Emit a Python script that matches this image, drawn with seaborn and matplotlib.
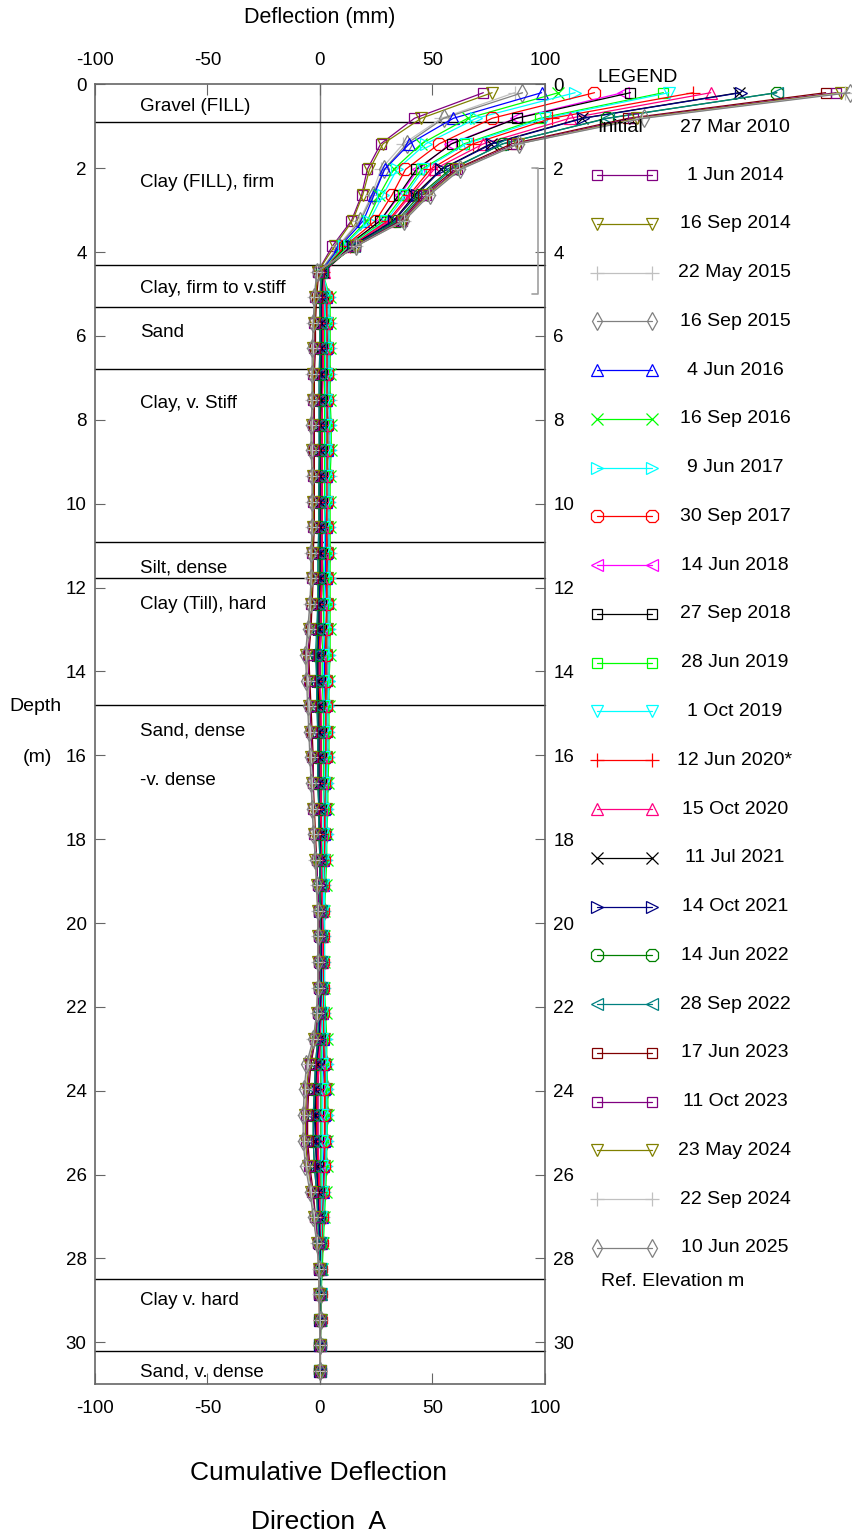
import matplotlib
matplotlib.use('Agg')
import matplotlib.pyplot as plt
import seaborn as sns
from matplotlib.lines import Line2D

sns.set_style('white')
plt.rcParams['font.family'] = ['Liberation Sans', 'DejaVu Sans']
plt.rcParams['axes.unicode_minus'] = False
plt.rcParams['text.color'] = 'black'
plt.rcParams['xtick.labelcolor'] = 'black'
plt.rcParams['ytick.labelcolor'] = 'black'

# ---------------- data ----------------
depth = [0.2, 0.81, 1.42, 2.03, 2.64, 3.25, 3.86, 4.47, 5.08, 5.69, 6.3, 6.91, 7.52, 8.13,
         8.73, 9.34, 9.95, 10.56, 11.17, 11.78, 12.39, 13.0, 13.61, 14.22, 14.83, 15.44,
         16.05, 16.66, 17.27, 17.88, 18.49, 19.1, 19.71, 20.32, 20.93, 21.54, 22.15, 22.76,
         23.36, 23.97, 24.58, 25.19, 25.8, 26.41, 27.02, 27.63, 28.24, 28.85, 29.46, 30.07, 30.68]

dates = ['1 Jun 2014', '16 Sep 2014', '22 May 2015', '16 Sep 2015', '4 Jun 2016',
         '16 Sep 2016', '9 Jun 2017', '30 Sep 2017', '14 Jun 2018', '27 Sep 2018',
         '28 Jun 2019', '1 Oct 2019', '12 Jun 2020*', '15 Oct 2020', '11 Jul 2021',
         '14 Oct 2021', '14 Jun 2022', '28 Sep 2022', '17 Jun 2023', '11 Oct 2023',
         '23 May 2024', '22 Sep 2024', '10 Jun 2025']

s01 = [72.6, 42, 27, 21, 18.5, 14, 5.5, -1,
       3, 3, 3.5, 3.5, 3, 3.5, 3.5, 3, 3, 3, 3.5, 3, 3.5, 3, 3, 3, 3, 3, 3, 2.5, 2.5, 2.5, 2, 1.5,
       1.5, 1.5, 1.5, 1.5, 1.5, 2, 2.5, 2.5, 2.5, 2.5, 2, 1.5, 1.5, 1, 0.5, 0.5, 0.3, 0.2, 0]
s02 = [76.5, 45, 28, 22, 19, 14.5, 6.5, -1,
       2.5, 3, 3, 3, 3, 3, 3.5, 3, 3, 3, 3, 3, 3, 3, 2.5, 2.5, 3, 3, 2.5, 2.5, 2.5, 2, 2, 1.5,
       1.5, 1.5, 1.5, 1.5, 1.5, 2, 2, 2.5, 2.5, 2, 2, 1.5, 1, 1, 0.5, 0.5, 0.3, 0.1, 0]
s03 = [86.5, 54, 37, 27, 23, 17.5, 8, 0,
       4, 4.5, 4.5, 4.5, 4.5, 4.5, 4.5, 4.5, 4, 4, 4.5, 4, 4, 4, 4, 3.5, 3.5, 3.5, 3.5, 3, 3, 3,
       2.5, 2, 2, 2, 2, 2, 2, 2.5, 3, 3, 3, 3, 2.5, 2, 1.5, 1, 0.5, 0.5, 0.3, 0.2, 0]
s04 = [90, 55, 38.5, 28.5, 23.5, 18, 8.5, 0,
       3.5, 3.5, 4, 4, 4, 4, 4, 4, 3.5, 3.5, 4, 3.5, 3.5, 3.5, 3.5, 3.5, 3, 3, 3, 3, 2.5, 2.5,
       2, 2, 2, 1.5, 1.5, 1.5, 2, 2, 2.5, 3, 3, 2.5, 2.5, 2, 1.5, 1, 0.5, 0.5, 0.3, 0.1, 0]
s05 = [98.5, 59.3, 39.7, 28.7, 24, 19.3, 9, 0.5,
       2.5, 2.5, 2.5, 2.5, 2.5, 2.5, 3, 2.5, 2.5, 2.5, 2.5, 2.5, 2, 2, 2, 2, 2, 2, 2, 2, 2, 2,
       1.5, 1.5, 1, 1, 1, 1, 1, 1.5, 1.5, 2, 2, 2, 1.5, 1.5, 1, 0.5, 0.5, 0.3, 0.2, 0.1, 0]
s06 = [106, 65.6, 45, 32.7, 26.4, 21, 10, 1,
       4.5, 4.5, 4.5, 4.5, 4.5, 5, 5, 4.5, 4.5, 4.5, 4.5, 4.5, 4.5, 4.5, 4.5, 4, 4, 4, 4, 3.5,
       3.5, 3, 3, 2.5, 2, 2, 2, 2, 2.5, 3, 3, 3.5, 3.5, 3, 3, 2.5, 2, 1.5, 1, 0.5, 0.3, 0.2, 0]
s07 = [113.4, 69.5, 47, 34.2, 28, 22, 10.5, 1,
       4, 4, 4, 4, 4, 4.5, 4.5, 4, 4, 4, 4, 4, 4, 4, 4, 4, 3.5, 3.5, 3.5, 3, 3, 3, 2.5, 2, 2, 2,
       2, 2, 2, 2.5, 3, 3, 3, 3, 2.5, 2, 1.5, 1, 0.5, 0.5, 0.3, 0.1, 0]
s08 = [122, 76.5, 53, 38, 32, 24.8, 11, 1,
       3, 3, 3, 3, 3, 3, 3, 3, 3, 3, 3, 3, 3, 2.5, 2.5, 2.5, 2.5, 2.5, 2.5, 2, 2, 2, 2, 1.5, 1.5,
       1.5, 1.5, 1.5, 1.5, 1.5, 2, 2, 2, 2, 2, 1.5, 1, 1, 0.5, 0.5, 0.3, 0.1, 0]
s09 = [134.5, 87, 58, 43.6, 35.5, 27, 12, 1.5,
       1.5, 1, 1, 1, 1, 1, 1, 1, 1, 1, 1, 0.5, 0.5, 0.5, 0, 0, 0.5, 0.5, 0.5, 0.5, 0.5, 0.5, 0.5,
       0.5, 0.5, 0.5, 0.5, 0.5, 0.5, 0, -0.5, -1, -1, -1, -0.5, -0.5, 0, 0, 0, 0, 0, 0, 0]
s10 = [138, 87.5, 58.5, 42.8, 35, 26.8, 12, 1,
       1.5, 1.5, 1, 1, 1, 1, 1, 1, 1, 1, 1, 1, 0.5, 0.5, 0, 0, 0, 0.5, 0.5, 0.5, 0.5, 0.5, 0.5,
       1, 1, 1, 1, 1, 0.5, 0, -0.5, -1, -1, -1, -1, -0.5, 0, 0, 0, 0, 0, 0, 0]
s11 = [152.6, 97.7, 64, 45, 37, 28.5, 12.5, 1,
       2, 2, 2, 2, 2, 2, 2, 2, 2, 2, 2, 1.5, 1.5, 1.5, 1, 1, 1.5, 1.5, 1.5, 1.5, 1.5, 1.5, 1, 1,
       1, 1, 1, 1, 1, 1, 0.5, 0.5, 0.5, 0.5, 0.5, 0.5, 0.5, 0.5, 0.3, 0.3, 0.2, 0.1, 0]
s12 = [155, 100, 65, 46, 38, 29.5, 13, 1.5,
       2, 2.5, 2.5, 2.5, 2.5, 2.5, 2.5, 2.5, 2.5, 2, 2, 2, 2, 2, 1.5, 1.5, 2, 2, 2, 2, 1.5, 1.5,
       1.5, 1.5, 1.5, 1, 1, 1, 1, 1, 1, 1, 1, 1, 1, 1, 0.5, 0.5, 0.5, 0.3, 0.2, 0.1, 0]
s13 = [166, 103, 68, 49, 39.7, 30.3, 13.5, 1.5,
       1, 1, 1, 1, 0.5, 0.5, 0.5, 0.5, 0.5, 0.5, 0.5, 0.5, 0, 0, -0.5, -0.5, 0, 0, 0, 0, 0, 0.5,
       0.5, 0.5, 0.5, 0.5, 0.5, 0.5, 0, -0.5, -1, -1.5, -1.5, -1.5, -1, -0.5, 0, 0, 0, 0, 0, 0, 0]
s14 = [173.7, 111, 72.6, 50.7, 40.5, 31, 14, 2,
       1.5, 1.5, 1.5, 1.5, 1, 1, 1, 1, 1, 1, 1, 1, 0.5, 0.5, 0, 0, 0.5, 0.5, 0.5, 0.5, 0.5, 0.5,
       0.5, 1, 1, 1, 1, 0.5, 0.5, 0, -0.5, -1, -1, -1, -0.5, 0, 0, 0, 0, 0, 0, 0, 0]
s15 = [186.3, 116.5, 75.8, 53.8, 42, 32.7, 14, 1.5,
       0.5, 0.5, 0.5, 0.5, 0.5, 0, 0, 0, 0, 0, 0, 0, -0.5, -0.5, -1, -1, -0.5, -0.5, -0.5, -0.5,
       -0.5, 0, 0, 0, 0.5, 0.5, 0.5, 0.5, 0, -0.5, -1.5, -2, -2, -2, -1.5, -1, -0.5, 0, 0, 0, 0, 0, 0]
s16 = [187, 117, 76.5, 54, 43, 33, 14.5, 1,
       0.5, 0.5, 0.5, 0.5, 0, 0, 0, 0, 0, 0, 0, 0, -0.5, -0.5, -1, -1, -1, -0.5, -0.5, -0.5, -0.5,
       0, 0, 0, 0, 0.5, 0.5, 0.5, 0, -0.5, -1.5, -2, -2.5, -2, -1.5, -1, -0.5, 0, 0, 0, 0, 0, 0]
s17 = [203, 127.5, 81.3, 57.7, 44.4, 34.2, 15, 1,
       0, 0, 0, 0, 0, 0, 0, -0.5, -0.5, -0.5, -0.5, -0.5, -1, -1, -1.5, -1.5, -1, -1, -1, -1, -0.5,
       -0.5, 0, 0, 0, 0, 0, 0, -0.5, -1, -2, -2.5, -3, -3, -2.5, -1.5, -1, -0.5, 0, 0, 0, 0, 0]
s18 = [203, 128, 81, 58.5, 45.5, 35, 15, 0.5,
       0, 0, 0, -0.5, -0.5, -0.5, -0.5, -0.5, -0.5, -0.5, -1, -1, -1, -1.5, -2, -1.5, -1.5, -1, -1,
       -1, -0.5, -0.5, 0, 0, 0, 0, 0, 0, -0.5, -1, -2, -2.5, -3, -3, -2.5, -1.5, -1, -0.5, 0, 0, 0, 0, 0]
s19 = [224.7, 137, 85.2, 60, 46, 36, 15.5, -0.5,
       -1.5, -2, -2, -2.5, -2.5, -2.5, -2.5, -2.5, -2.5, -2.5, -3, -3, -3.5, -4, -5, -4.5, -4, -3.5,
       -3, -3, -2.5, -2, -1.5, -1, -0.5, -0.5, -0.5, -0.5, -1, -2, -4, -5, -5.5, -5.5, -4.5, -3, -2,
       -1, -0.5, -0.3, -0.2, -0.1, 0]
s20 = [229.4, 139.2, 87, 61, 47, 36.5, 15.5, -1,
       -2, -2.5, -2.5, -3, -3, -3, -3, -3, -3, -3, -3.5, -3.5, -4, -4.5, -5.5, -5, -4.5, -4, -3.5,
       -3, -3, -2.5, -1.5, -1, -0.5, -0.5, -0.5, -0.5, -1, -2, -4.5, -5.5, -6, -6, -5, -3.5, -2, -1,
       -0.5, -0.3, -0.2, -0.1, 0]
s21 = [231.7, 141, 88, 61.5, 48, 37, 16, -1,
       -2, -2.5, -3, -3, -3, -3.5, -3.5, -3, -3, -3, -3.5, -3.5, -4, -5, -6, -5.5, -5, -4.5, -4,
       -3.5, -3, -2.5, -2, -1.5, -1, -1, -1, -1, -1.5, -2.5, -5, -6, -6.5, -6.5, -5.5, -4, -2.5,
       -1.5, -0.5, -0.3, -0.2, -0.1, 0]
s22 = [233.5, 143, 88, 62, 48.5, 37.3, 16, -1.5,
       -2.5, -3, -3, -3.5, -3.5, -3.5, -3.5, -3.5, -3.5, -3.5, -4, -4, -4.5, -5, -6, -5.5, -5, -4.5,
       -4, -3.5, -3, -2.5, -2, -1.5, -1, -1, -1, -1, -1.5, -3, -5.5, -6.5, -7, -7, -6, -4, -2.5,
       -1.5, -0.5, -0.3, -0.2, -0.1, 0]
s23 = [235.5, 144, 88.3, 62.4, 48.7, 37.5, 16.2, -1.5,
       -2.5, -3, -3.5, -3.5, -3.5, -4, -4, -3.5, -3.5, -3.5, -4, -4, -4.5, -5.5, -6.5, -6, -5.5, -5,
       -4.5, -4, -3.5, -3, -2, -1.5, -1, -1, -1, -1, -1.5, -3, -6, -7, -7.5, -7.5, -6.5, -4.5, -3,
       -1.5, -0.5, -0.3, -0.2, -0.1, 0]

series = [s01, s02, s03, s04, s05, s06, s07, s08, s09, s10, s11, s12,
          s13, s14, s15, s16, s17, s18, s19, s20, s21, s22, s23]

colors = ['#800080', '#808000', '#C0C0C0', '#808080', '#0000FF', '#00FF00', '#00FFFF',
          '#FF0000', '#FF00FF', '#000000', '#00FF00', '#00FFFF', '#FF0000', '#FF0080',
          '#000000', '#000080', '#008000', '#008080', '#800000', '#800080', '#808000',
          '#C0C0C0', '#808080']
markers = ['s', 'v', '+', 'd', '^', 'x', '>', '8', '<', 's', 's', 'v',
           '+', '^', 'x', '>', '8', '<', 's', 's', 'v', '+', 'd']
msize = {'s': 7.5, 'v': 8.5, '^': 8.5, '<': 8.5, '>': 8.5, '+': 10, 'x': 8, 'd': 9, '8': 10}

layer_bounds = [0.9, 4.32, 5.31, 6.79, 10.91, 11.77, 14.8, 28.5, 30.2]
layer_names = ['Gravel (FILL)', 'Clay (FILL), firm', 'Clay, firm to v.stiff', 'Sand',
               'Clay, v. Stiff', 'Silt, dense', 'Clay (Till), hard', 'Sand, dense',
               '-v. dense', 'Clay v. hard', 'Sand, v. dense']
layer_name_depth = [0.54, 2.35, 4.86, 5.93, 7.62, 11.53, 12.41, 15.42, 16.61, 29.0, 30.7]

x_ticks = [-100, -50, 0, 50, 100]
y_ticks = list(range(0, 31, 2))

# ---------------- figure ----------------
W, H = 853, 1537
fig = plt.figure(figsize=(W / 100, H / 100), dpi=100)
ax = fig.add_axes([95 / W, 1 - 1384.3 / H, 450 / W, 1300 / H])

ax.axvline(0, color='#808080', lw=1.0, zorder=0.5)
for d in layer_bounds:
    ax.axhline(d, color='black', lw=1.0, zorder=0.6)
for name, d in zip(layer_names, layer_name_depth):
    ax.text(-80, d, name, ha='left', va='center', fontsize=13.5, color='black', zorder=1)

for vals, c, m in zip(series, colors, markers):
    sns.lineplot(x=vals, y=depth, sort=False, estimator=None, color=c, marker=m,
                 markersize=msize[m], markerfacecolor='none', markeredgecolor=c,
                 markeredgewidth=0.9, linewidth=0.9, ax=ax, legend=False)
for ln in ax.lines:
    ln.set_clip_on(False)

# reference elevation bracket
ax.plot([94.1, 96.8, 96.8, 94.1], [2, 2, 5, 5], color='#A0A0A0', lw=1.2, clip_on=False)

ax.set_xlim(-100, 100)
ax.set_ylim(31, 0)
ax.set_xticks(x_ticks)
ax.set_yticks(y_ticks)
ax.set_xlabel('')
ax.set_ylabel('')
ax.tick_params(axis='x', top=True, bottom=True, labeltop=True, labelbottom=True,
               direction='in', length=8, pad=11, labelsize=13.5, color='#666666',
               labelcolor='black')
ax.tick_params(axis='y', left=True, right=True, labelleft=True, labelright=True,
               direction='in', length=7, pad=6, labelsize=13.5, color='#666666',
               labelcolor='black')
for sp in ax.spines.values():
    sp.set_color('#666666')
    sp.set_linewidth(1.2)
    sp.set_visible(True)

# titles and labels
fig.text(320 / W, 1 - 17 / H, 'Deflection (mm)', ha='center', va='center', fontsize=15.5)
fig.text(35 / W, 1 - 707 / H, 'Depth', ha='center', va='center', fontsize=14)
fig.text(37 / W, 1 - 757 / H, '(m)', ha='center', va='center', fontsize=14)
fig.text(319 / W, 1 - 1473 / H, 'Cumulative Deflection', ha='center', va='center', fontsize=19)
fig.text(319 / W, 1 - 1522 / H, 'Direction  A', ha='center', va='center', fontsize=19)

# legend
fig.text(597 / W, 1 - 78 / H, 'LEGEND', ha='left', va='center', fontsize=14)
fig.text(597 / W, 1 - 127 / H, 'Initial', ha='left', va='center', fontsize=14)
fig.text(735 / W, 1 - 127 / H, '27 Mar 2010', ha='center', va='center', fontsize=14)
for i, (lab, c, m) in enumerate(zip(dates, colors, markers)):
    y = 1 - (175 + i * 48.77) / H
    fig.add_artist(Line2D([597 / W, 652 / W], [y, y], transform=fig.transFigure, color=c,
                          marker=m, markersize=msize[m], markerfacecolor='none',
                          markeredgecolor=c, markeredgewidth=0.9, linewidth=0.9))
    fig.text(735 / W, y, lab, ha='center', va='center', fontsize=14)
fig.text(601 / W, 1 - 1281 / H, 'Ref. Elevation m', ha='left', va='center', fontsize=14)

fig.savefig('out.png', dpi=100)
